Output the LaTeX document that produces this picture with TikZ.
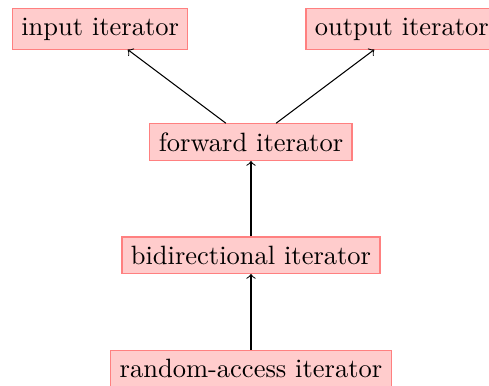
\documentclass[tikz,border=0pt]{standalone}
\begin{document}
\begin{tikzpicture}[
  itbox/.style={draw=red!50, fill=red!20, rectangle},
  conn/.style={->}
]
\useasboundingbox (-94.7pt,-91.7pt) rectangle (89.8pt,53.6pt);
\node[itbox] (fwd) at (0,0) {forward iterator};
\node[itbox] (in) at (-2,1.5) {input iterator};
\node[itbox] (out) at (2,1.5) {output iterator};
\node[itbox] (bid) at (0,-1.5) {bidirectional iterator};
\node[itbox] (ra) at (0,-3) {random-access iterator};
\draw[conn] (fwd) -- (in);
\draw[conn] (fwd) -- (out);
\draw[conn] (bid) -- (fwd);
\draw[conn] (ra) -- (bid);
\end{tikzpicture}
\end{document}
